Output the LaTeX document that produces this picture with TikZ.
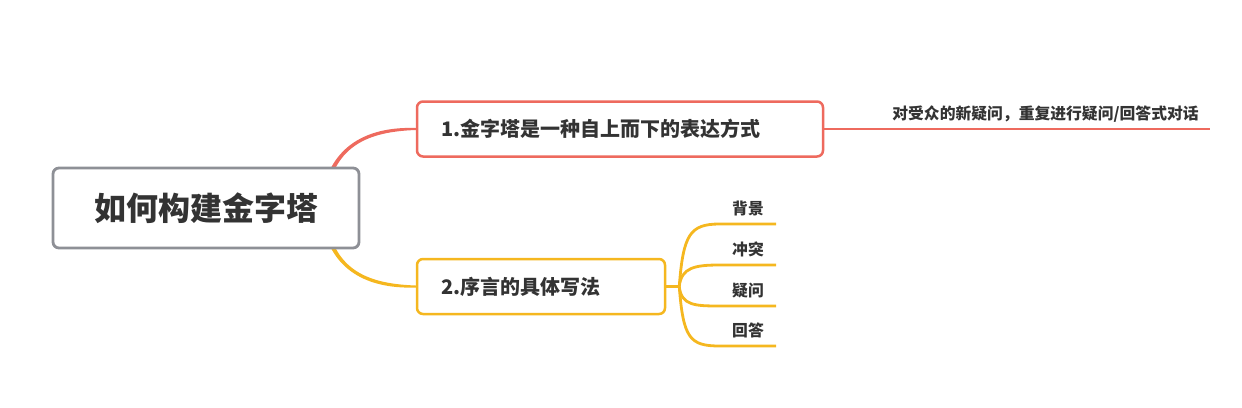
\documentclass[tikz,border=0pt]{standalone}
\usepackage{fontspec}
\setmainfont{Noto Sans CJK SC}
\usetikzlibrary{positioning,calc,backgrounds}
\definecolor{rootgray}{HTML}{8E9096}
\definecolor{mapred}{HTML}{EE6A5E}
\definecolor{mapyellow}{HTML}{F5B71F}
\definecolor{inkgray}{HTML}{333333}
\tikzset{
	rootbox/.style={draw=rootgray,line width=2.8pt,rounded corners=6pt,fill=white,minimum width=306pt,minimum height=80pt,font=\fontsize{32}{36}\selectfont\bfseries,text=inkgray},
	topicbox/.style={line width=2.5pt,rounded corners=6pt,fill=white,minimum height=55pt,inner xsep=24pt,align=left,font=\fontsize{20}{24}\selectfont\bfseries,text=inkgray},
	leaf/.style={inner xsep=0pt,inner ysep=9.5pt,text depth=0pt,anchor=south,font=\fontsize{15.8}{18}\selectfont\bfseries,text=inkgray},
}
\begin{document}
\begin{tikzpicture}[x=1pt,y=-1pt]
	\useasboundingbox(0,0)rectangle(1242,407);
	\node[rootbox](root)at(206,208){如何构建金字塔};
	\node[topicbox,draw=mapred,text width=358pt](pyramid)at(620,129){1.金字塔是一种自上而下的表达方式};
	\node[topicbox,draw=mapyellow,text width=200pt](preface)at(541,286.5){2.序言的具体写法};
	\node[leaf,minimum width=329pt](dialog)at(1045.5,129){对受众的新疑问，重复进行疑问/回答式对话};
	\coordinate[right=13pt of preface](fork);
	\node[leaf,minimum width=56pt](bg)at(748,224){背景};
	\node[leaf,minimum width=56pt](ct)at(748,265){冲突};
	\node[leaf,minimum width=56pt](qs)at(748,306){疑问};
	\node[leaf,minimum width=56pt](an)at(748,346){回答};
	\begin{scope}[on background layer]
		\fill[mapred]($(root.east)+(-38,-15)$)..controls +(10,-52) and +(-42,-1.5)..($(pyramid.west)+(0,-1)$)--($(pyramid.west)+(0,1)$)..controls +(-40,1.5) and +(9,-52)..($(root.east)+(-33,-15)$)--cycle;
		\fill[mapyellow]($(root.east)+(-38,15)$)..controls +(10,52) and +(-42,1.5)..($(preface.west)+(0,1)$)--($(preface.west)+(0,-1)$)..controls +(-40,-1.5) and +(9,52)..($(root.east)+(-33,15)$)--cycle;
	\end{scope}
	\draw[mapred,line width=2.5pt](pyramid.east)--(dialog.south west)--(dialog.south east);
	\draw[mapyellow,line width=2.8pt](preface.east)--(fork);
	\draw[mapyellow,line width=2.8pt](fork)..controls +(4,-52) and +(-30,0)..(bg.south west)--(bg.south east);
	\draw[mapyellow,line width=2.8pt](fork)..controls +(2,-19) and +(-25,0)..(ct.south west)--(ct.south east);
	\draw[mapyellow,line width=2.8pt](fork)..controls +(2,19) and +(-25,0)..(qs.south west)--(qs.south east);
	\draw[mapyellow,line width=2.8pt](fork)..controls +(4,52) and +(-30,0)..(an.south west)--(an.south east);
\end{tikzpicture}
\end{document}
